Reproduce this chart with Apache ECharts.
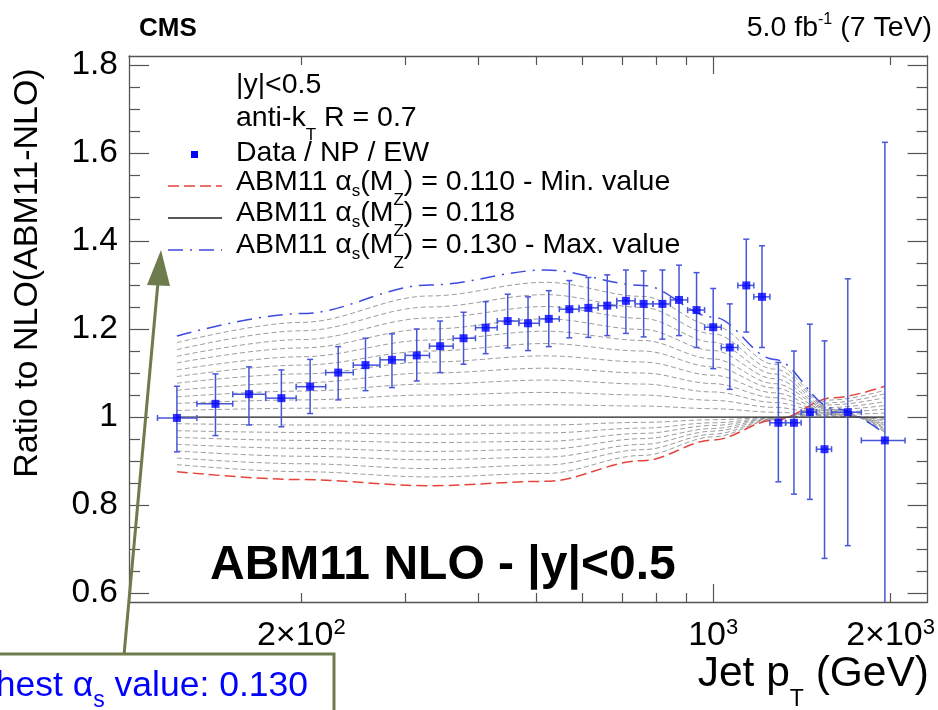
<!DOCTYPE html>
<html><head><meta charset="utf-8">
<script src="https://cdn.jsdelivr.net/npm/echarts@6/dist/echarts.min.js"></script>
<style>html,body{margin:0;padding:0;background:#fff}#c{width:938px;height:710px}</style>
</head><body><div id="c"></div>
<script>
const FONT = '"Liberation Sans", Arial, Helvetica, sans-serif';

// ---------- data ----------
const binLo = [114,133,153,174,196,220,245,272,300,330,362,395,430,468,507,548,592,638,686,737,790,846,905,967,1032,1101,1172,1248,1327,1410,1497,1588,1784];
const binHi = [133,153,174,196,220,245,272,300,330,362,395,430,468,507,548,592,638,686,737,790,846,905,967,1032,1101,1172,1248,1327,1410,1497,1588,1784,2116];
const binPt = [123,143,163,185,207,231,257,285,314,344,377,411,448,485,526,570,614,661,711,762,820,875,937,1000,1067,1138,1210,1290,1371,1459,1545,1692,1956];
const dataRatio = [0.998,1.030,1.052,1.043,1.069,1.101,1.118,1.130,1.140,1.161,1.179,1.203,1.218,1.213,1.223,1.245,1.248,1.253,1.264,1.257,1.257,1.266,1.243,1.204,1.158,1.299,1.273,0.987,0.987,1.011,0.927,1.011,0.947];
const dataUp = [1.070,1.098,1.114,1.107,1.131,1.160,1.179,1.189,1.200,1.218,1.238,1.262,1.279,1.273,1.287,1.310,1.317,1.323,1.334,1.332,1.334,1.345,1.328,1.292,1.257,1.404,1.389,1.124,1.150,1.211,1.173,1.314,1.624];
const dataDown = [0.921,0.958,0.982,0.978,1.008,1.039,1.060,1.067,1.082,1.101,1.120,1.144,1.157,1.151,1.160,1.180,1.181,1.185,1.190,1.182,1.177,1.185,1.158,1.110,1.063,1.193,1.158,0.853,0.825,0.813,0.679,0.708,0.270];

const theoryPt = [123,200,330,520,760,1000,1270,1600,1956];
const ratioMin110 = [0.876,0.858,0.844,0.854,0.901,0.948,0.993,1.044,1.070];
const ratioCentral118 = [1,1,1,1,1,1,1,1,1];
const ratioMax130 = [1.184,1.235,1.300,1.334,1.299,1.227,1.131,1.020,0.962];
const scanAlphas = ['0.111','0.112','0.113','0.114','0.115','0.116','0.117','0.119','0.120','0.121','0.122','0.123','0.124','0.125','0.126','0.127','0.128','0.129'];
const scanRatios = [
  [0.892,0.876,0.864,0.872,0.913,0.955,0.994,1.039,1.061],
  [0.907,0.894,0.883,0.891,0.926,0.961,0.995,1.033,1.053],
  [0.923,0.911,0.903,0.909,0.938,0.968,0.996,1.028,1.044],
  [0.938,0.929,0.922,0.927,0.951,0.974,0.997,1.022,1.035],
  [0.954,0.947,0.942,0.945,0.963,0.981,0.997,1.017,1.026],
  [0.969,0.965,0.961,0.964,0.975,0.987,0.998,1.011,1.018],
  [0.985,0.982,0.981,0.982,0.988,0.994,0.999,1.006,1.009],
  [1.015,1.020,1.025,1.028,1.025,1.019,1.011,1.002,0.997],
  [1.031,1.039,1.050,1.056,1.050,1.038,1.022,1.003,0.994],
  [1.046,1.059,1.075,1.084,1.075,1.057,1.033,1.005,0.991],
  [1.061,1.078,1.100,1.111,1.100,1.076,1.044,1.007,0.987],
  [1.077,1.098,1.125,1.139,1.125,1.095,1.055,1.008,0.984],
  [1.092,1.118,1.150,1.167,1.150,1.114,1.066,1.010,0.981],
  [1.107,1.137,1.175,1.195,1.174,1.132,1.076,1.012,0.978],
  [1.123,1.157,1.200,1.223,1.199,1.151,1.087,1.013,0.975],
  [1.138,1.176,1.225,1.251,1.224,1.170,1.098,1.015,0.972],
  [1.153,1.196,1.250,1.278,1.249,1.189,1.109,1.017,0.968],
  [1.169,1.215,1.275,1.306,1.274,1.208,1.120,1.018,0.965]
];

const xMinorTicks = [200,300,400,500,600,700,800,900,2000];
const xMajorTicks = [1000];
const xLabelValues = [200,1000,2000];
const xLabelTexts = ['2×10{sup|2}','10{sup|3}','2×10{sup|3}'];
const yLabelValues = [0.6,0.8,1,1.2,1.4,1.6,1.8];
const yMinorTicks = [0.65,0.7,0.75,0.85,0.9,0.95,1.05,1.1,1.15,1.25,1.3,1.35,1.45,1.5,1.55,1.65,1.7,1.75];

// ---------- chart ----------
const X_MIN = 102, X_MAX = 2311, Y_MIN = 0.58, Y_MAX = 1.82;
const FRAME = '#555';
const chart = echarts.init(document.getElementById('c'), null, {renderer: 'canvas'});

function xAxisDef(pos, ticks, len, withLabels, withLine) {
  return {
    type: 'log', min: X_MIN, max: X_MAX, position: pos, logBase: 10,
    axisLine: {show: withLine, lineStyle: {color: FRAME, width: 1.3}},
    axisTick: {show: true, inside: true, length: len, customValues: ticks, lineStyle: {color: FRAME, width: 1.2}},
    axisLabel: withLabels ? {
      show: true, customValues: xLabelValues, fontSize: 34, fontFamily: FONT, color: '#000', margin: 13, lineHeight: 42,
      formatter: v => { const i = xLabelValues.findIndex(t => Math.abs(t - v) < 1e-6); return i >= 0 ? xLabelTexts[i] : ''; },
      rich: {sup: {fontSize: 22, fontFamily: FONT, color: '#000', lineHeight: 22, padding: [0, 0, 16, 0]}}
    } : {show: false},
    splitLine: {show: false}, minorTick: {show: false}
  };
}
function yAxisDef(pos, ticks, len, withLabels, withLine) {
  return {
    type: 'value', min: Y_MIN, max: Y_MAX, position: pos,
    axisLine: {show: withLine, lineStyle: {color: FRAME, width: 1.3}},
    axisTick: {show: true, inside: true, length: len, customValues: ticks, lineStyle: {color: FRAME, width: 1.2}},
    axisLabel: withLabels ? {
      show: true, customValues: yLabelValues, fontSize: 33.5, fontFamily: FONT, color: '#000', margin: 11,
      formatter: v => String(Math.round(v * 10) / 10)
    } : {show: false},
    splitLine: {show: false}
  };
}

const series = [];
scanRatios.forEach((row, i) => {
  series.push({
    type: 'line', name: 'ABM11 αs(MZ) = ' + scanAlphas[i], silent: true, z: 2,
    data: theoryPt.map((p, j) => [p, row[j]]), smooth: 0.35, smoothMonotone: 'x', symbol: 'none',
    lineStyle: {color: '#9c9c9c', width: 1, type: [5, 3]}
  });
});
series.push({type: 'line', name: 'ABM11 αs(MZ) = 0.110', silent: true, z: 3, symbol: 'none', smooth: 0.35, smoothMonotone: 'x',
  data: theoryPt.map((p, j) => [p, ratioMin110[j]]), lineStyle: {color: '#e5443c', width: 1.5, type: [11, 5]}});
series.push({type: 'line', name: 'ABM11 αs(MZ) = 0.118', silent: true, z: 3, symbol: 'none',
  data: theoryPt.map((p, j) => [p, ratioCentral118[j]]), lineStyle: {color: '#222', width: 1.3}});
series.push({type: 'line', name: 'ABM11 αs(MZ) = 0.130', silent: true, z: 3, symbol: 'none', smooth: 0.35, smoothMonotone: 'x',
  data: theoryPt.map((p, j) => [p, ratioMax130[j]]), lineStyle: {color: '#3c4ae0', width: 1.5, type: [15, 7, 2, 7]}});

series.push({
  type: 'custom', name: 'Data / NP / EW errors', z: 5, silent: true,
  data: binPt.map((p, i) => [p, dataRatio[i], binLo[i], binHi[i], dataDown[i], dataUp[i]]),
  encode: {x: 0, y: 1},
  renderItem(params, api) {
    const pt = api.value(0), r = api.value(1);
    const c = api.coord([pt, r]);
    const l = api.coord([api.value(2), r]);
    const rr = api.coord([api.value(3), r]);
    const lo = api.coord([pt, api.value(4)]);
    const hi = api.coord([pt, api.value(5)]);
    const cs = params.coordSys;
    const top = cs.y, bot = cs.y + cs.height;
    const yHi = Math.max(hi[1], top), yLo = Math.min(lo[1], bot);
    const st = {stroke: '#4756d9', lineWidth: 1.5};
    const cap = 3;
    const ch = [
      {type: 'line', shape: {x1: c[0], y1: yHi, x2: c[0], y2: yLo}, style: st},
      {type: 'line', shape: {x1: l[0], y1: c[1], x2: rr[0], y2: c[1]}, style: st},
      {type: 'line', shape: {x1: l[0], y1: c[1] - cap, x2: l[0], y2: c[1] + cap}, style: st},
      {type: 'line', shape: {x1: rr[0], y1: c[1] - cap, x2: rr[0], y2: c[1] + cap}, style: st}
    ];
    if (hi[1] >= top) ch.push({type: 'line', shape: {x1: c[0] - cap, y1: hi[1], x2: c[0] + cap, y2: hi[1]}, style: st});
    if (lo[1] <= bot) ch.push({type: 'line', shape: {x1: c[0] - cap, y1: lo[1], x2: c[0] + cap, y2: lo[1]}, style: st});
    return {type: 'group', children: ch};
  }
});
series.push({type: 'scatter', name: 'Data / NP / EW', z: 6, silent: true, symbol: 'rect', symbolSize: 8,
  itemStyle: {color: '#0000ff'}, data: binPt.map((p, i) => [p, dataRatio[i]])});

// ---------- annotations ----------
const OLIVE = '#6e7b4c';
function rs(fs, color, padTop, padBottom) {
  return {fontSize: fs, fontFamily: FONT, fill: color, lineHeight: fs, padding: [padTop, 0, padBottom, 0]};
}
function txt(x, y, text, fs, o) {
  o = o || {};
  return {type: 'text', x: x, y: y, z: 100, rotation: o.rot || 0, silent: true,
    style: {text: text, fontSize: fs, fontFamily: FONT, fontWeight: o.bold ? 'bold' : 'normal', fill: o.color || '#000',
      align: o.align || 'left', verticalAlign: 'middle', lineHeight: o.lh || Math.round(fs * 2.4), rich: o.rich || {}}};
}
const legRich = {s: rs(17, '#000', 18, 0), z: rs(17, '#000', 36, 0), t: rs(17, '#000', 34, 0)};
const LEG_X = 236, LEG_FS = 28.5;
const graphics = [
  txt(139, 29, 'CMS', 26, {bold: true}),
  txt(932, 28, '5.0 fb{sup|-1} (7 TeV)', 28.5, {align: 'right', rich: {sup: rs(16, '#000', 0, 16)}}),
  txt(LEG_X, 85, '|y|<0.5', LEG_FS),
  txt(LEG_X, 118, 'anti-k{t|T} R = 0.7', LEG_FS, {rich: legRich}),
  txt(LEG_X, 153, 'Data / NP / EW', LEG_FS),
  txt(LEG_X, 182, 'ABM11 α{s|s}(M{z|Z}) = 0.110 - Min. value', LEG_FS, {rich: legRich}),
  txt(LEG_X, 213, 'ABM11 α{s|s}(M{z|Z}) = 0.118', LEG_FS, {rich: legRich}),
  txt(LEG_X, 245, 'ABM11 α{s|s}(M{z|Z}) = 0.130 - Max. value', LEG_FS, {rich: legRich}),
  {type: 'rect', z: 100, silent: true, shape: {x: 191, y: 151, width: 7, height: 7}, style: {fill: '#0000ff'}},
  {type: 'line', z: 100, silent: true, shape: {x1: 168, y1: 186, x2: 222, y2: 186}, style: {stroke: '#e5443c', lineWidth: 1.5, lineDash: [11, 5]}},
  {type: 'line', z: 100, silent: true, shape: {x1: 168, y1: 218, x2: 222, y2: 218}, style: {stroke: '#222', lineWidth: 1.3}},
  {type: 'line', z: 100, silent: true, shape: {x1: 168, y1: 250, x2: 222, y2: 250}, style: {stroke: '#3c4ae0', lineWidth: 1.5, lineDash: [15, 7, 2, 7]}},
  txt(210, 566, 'ABM11 NLO - |y|<0.5', 48, {bold: true}),
  txt(28, 273, 'Ratio to NLO(ABM11-NLO)', 34, {rot: Math.PI / 2, align: 'center'}),
  txt(929, 674, 'Jet p{sub|T} (GeV)', 42.5, {align: 'right', rich: {sub: rs(23, '#000', 52, 0)}}),
  {type: 'line', z: 110, silent: true, shape: {x1: 124, y1: 655, x2: 158, y2: 282}, style: {stroke: OLIVE, lineWidth: 3}},
  {type: 'polygon', z: 110, silent: true, shape: {points: [[161, 250], [147, 285], [170, 286]]}, style: {fill: OLIVE}},
  {type: 'rect', z: 111, silent: true, shape: {x: -10, y: 654, width: 344, height: 80}, style: {fill: '#fff', stroke: OLIVE, lineWidth: 3}},
  txt(308, 686, 'Highest α{s|s} value: 0.130', 35.5, {align: 'right', color: '#0000ff', rich: {s: rs(23, '#0000ff', 30, 0)}})
];
graphics[graphics.length - 1].z = 112;

chart.setOption({
  animation: false,
  backgroundColor: '#fff',
  textStyle: {fontFamily: FONT},
  grid: {left: 129, right: 8, top: 56, bottom: 108, containLabel: false},
  xAxis: [
    xAxisDef('bottom', xMinorTicks, 9, true, true),
    xAxisDef('bottom', xMajorTicks, 18, false, false),
    xAxisDef('top', xMinorTicks, 9, false, true),
    xAxisDef('top', xMajorTicks, 18, false, false)
  ],
  yAxis: [
    yAxisDef('left', yLabelValues, 20, true, true),
    yAxisDef('left', yMinorTicks, 11, false, false),
    yAxisDef('right', yLabelValues, 20, false, true),
    yAxisDef('right', yMinorTicks, 11, false, false)
  ],
  series: series,
  graphic: graphics
});
</script></body></html>
